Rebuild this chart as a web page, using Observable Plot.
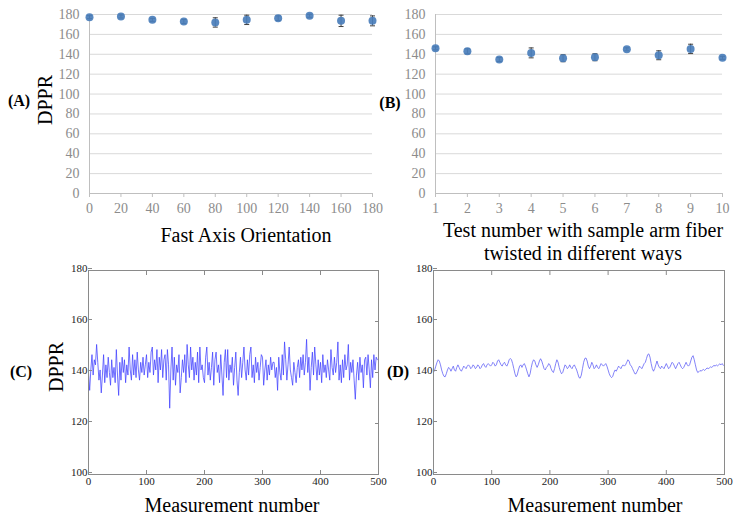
<!DOCTYPE html>
<html><head><meta charset="utf-8">
<script src="https://cdn.jsdelivr.net/npm/d3@7"></script>
<script src="https://cdn.jsdelivr.net/npm/@observablehq/plot@0.6"></script>
<style>
body{margin:0;background:#fff;}
#wrap{position:relative;width:742px;height:520px;overflow:hidden;font-family:"Liberation Serif","Times New Roman",serif;}
#wrap svg, #wrap svg text{font-family:"Liberation Serif","Times New Roman",serif !important;}
.p{position:absolute;}
.t{position:absolute;white-space:nowrap;transform:translate(-50%,-50%);color:#000;font-size:20px;line-height:1;}
.lab{position:absolute;white-space:nowrap;transform:translate(-50%,-50%);font-weight:bold;font-size:16px;line-height:1;}
.rot{transform:translate(-50%,-50%) rotate(-90deg);}
</style></head><body><div id="wrap"></div>
<script>
// Panel A
const orientations = [0, 20, 40, 60, 80, 100, 120, 140, 160, 180];
const dpprA = [177.3, 178, 174.6, 173, 172, 174.6, 176.3, 178.7, 173.6, 173.6];
const errA = [1.5, 1.5, 1.5, 2, 4.7, 4.7, 2.3, 1.5, 5.7, 5];
// Panel B
const tests = [1, 2, 3, 4, 5, 6, 7, 8, 9, 10];
const dpprB = [146, 143, 134.7, 141.4, 136, 137, 145, 139, 145.4, 136.4];
const errB = [1.5, 2.5, 2, 5, 3.5, 3.5, 1.5, 4.5, 4.7, 1.5];
const yTicksAB = [0, 20, 40, 60, 80, 100, 120, 140, 160, 180];
// Panel C (every 2nd measurement)
const dpprC = [
140,133,141,147,139,145,143,151,144,137,
141,132,139,147,136,143,138,146,140,135,
145,138,142,136,149,139,131,144,137,146,
140,145,136,143,139,150,141,137,147,139,
145,138,148,141,137,144,140,146,139,143,
147,138,144,140,148,150,139,145,141,149,
136,146,141,149,138,145,147,137,149,143,
126,141,150,137,146,135,143,140,147,132,
138,145,140,147,136,151,143,138,150,141,
146,137,144,139,148,136,150,141,143,138,
136,146,150,139,144,137,142,148,135,145,
148,140,143,136,147,139,131,144,149,138,
149,137,143,140,146,135,142,148,137,131,
140,146,138,144,150,141,137,145,139,147,
150,138,143,136,146,140,144,137,142,147,
146,135,141,145,137,143,139,146,141,144,
144,138,142,133,146,140,137,147,139,152,
145,137,143,150,141,138,135,144,140,136,
142,145,138,146,141,147,139,144,153,140,
146,133,142,148,139,150,143,137,145,139,
144,136,147,140,143,138,145,141,137,149,
142,139,146,140,144,152,137,143,136,145,
138,147,141,143,151,137,144,140,145,137,
129.5,139,144,137,146,140,143,134,145,146,
139,147,141,134,145,138,147,141,146,145];
// Panel D (every 2nd measurement)
const dpprD = [
140,141,142.5,144,145,144.5,143,141,139.5,138.5,
138.3,139.5,141,142,141.5,140.5,141.5,142.5,141,140.5,
142,143,142,141,140.5,141.5,142.5,142,141.5,142.5,
143,142.5,141.5,142,143,142.5,141.5,142,143,142.5,
141.5,142,143,143.5,142.5,142,143,143.5,143,142.5,
143,144,143.5,142.5,143,144.5,145,144,143,142.5,
143.5,144,143,142.5,143.5,145,145.5,145,143.5,141.5,
139.5,138.3,139,141,142.5,143,142,143,143.5,142.5,
141,139.5,138.3,139.5,142,144,145,144.5,143,142,
143,144.5,145.4,144.5,143,141.5,141,142,142.5,143.5,
143,141.5,140.5,140,141.5,143.5,145,144,142,140.5,
139.5,140,141.5,143,142.5,141.5,142,143,142,141.5,
142.5,143,142,141,139.5,138,137.8,139,141.5,144,
145.5,145.7,144.5,142.5,141.5,142.5,144,143,141.5,142,
143,142,141.5,142.5,143.5,143,142.5,143,143.5,142.5,
141,139.5,138.5,138,138.5,140,141,140.5,141.5,142.5,
142,141.5,142.5,143,142.5,143,144,145,144.5,143,
142.5,141.5,140.5,139.5,139.5,140.5,141.5,142.5,142,141.5,
142.5,143.5,144,145.5,147,147.3,146,143.5,141.5,140.5,
141.5,143,144.5,143,142,141.5,142.5,142,141.5,142.5,
143.5,142.5,141.5,142,143,144,143.5,142.5,141.5,142.5,
143.5,144,143,142,141.5,142,143,144,143,142.5,
143,144.5,146,146.6,145,143,141,140,140.3,140.8,
140.5,141,141.2,140.8,141.3,141.8,141.5,141.8,142.2,142,
142.4,142.8,142.5,143,142.6,143,143.4,143,143.5,142.8];
const xTicksCD = [0, 100, 200, 300, 400, 500];
const yTicksCD = [100, 120, 140, 160, 180];

const capSymbol = {draw(ctx, size) { const w = Math.sqrt(size / Math.PI); ctx.moveTo(-w, 0); ctx.lineTo(w, 0); }};
const serif = "Liberation Serif, Times New Roman, serif";

function excelPanel(xs, ys, es, xDomain, w, ml, mr) {
  const rows = xs.map((x, i) => ({x, y: ys[i], e: es[i]}));
  return Plot.plot({
    width: w, height: 260, marginTop: 14, marginBottom: 67, marginLeft: ml, marginRight: mr,
    style: {fontFamily: serif, fontSize: "14px", color: "#8c8c8c", background: "transparent", overflow: "visible"},
    x: {domain: xDomain}, y: {domain: [0, 180]},
    marks: [
      Plot.ruleY(yTicksAB, {stroke: "#d9d9d9"}),
      Plot.ruleY([0], {stroke: "#bfbfbf"}),
      Plot.ruleX([xDomain[0]], {y1: 0, y2: 180, stroke: "#bfbfbf"}),
      Plot.axisY({ticks: yTicksAB, tickSize: 0, tickPadding: 10, label: null, fontFamily: serif}),
      Plot.axisX({ticks: xs, tickSize: 4, tickPadding: 6, stroke: "#bfbfbf", label: null, fontFamily: serif}),
      Plot.ruleX(rows, {x: "x", y1: d => d.y - d.e, y2: d => d.y + d.e, stroke: "#404040", strokeWidth: 1}),
      Plot.dot(rows, {x: "x", y: d => d.y - d.e, r: 2.5, symbol: capSymbol, stroke: "#404040", strokeWidth: 1}),
      Plot.dot(rows, {x: "x", y: d => d.y + d.e, r: 2.5, symbol: capSymbol, stroke: "#404040", strokeWidth: 1}),
      Plot.dot(rows, {x: "x", y: "y", r: 4, fill: "#4a7ebb", fillOpacity: 0.92})
    ]
  });
}

function matlabPanel(ys, color, w, ml, mr) {
  const rows = ys.map((y, i) => ({x: i * 2, y}));
  return Plot.plot({
    width: w, height: 260, marginTop: 10, marginBottom: 46, marginLeft: ml, marginRight: mr,
    style: {fontFamily: serif, fontSize: "11px", color: "#222", background: "transparent", overflow: "visible"},
    x: {domain: [0, 500]}, y: {domain: [100, 180]},
    marks: [
      Plot.line(rows, {x: "x", y: "y", stroke: color, strokeWidth: 0.75}),
      Plot.frame({stroke: "#8a8a8a"}),
      Plot.axisY({ticks: yTicksCD, tickSize: -4, tickPadding: 5, stroke: "#8a8a8a", label: null, fontFamily: serif, dy: -2}),
      Plot.axisY({anchor: "right", ticks: yTicksCD, tickSize: -4, tickFormat: () => "", stroke: "#8a8a8a", label: null}),
      Plot.axisX({ticks: xTicksCD, tickSize: -4, tickPadding: 7, stroke: "#8a8a8a", label: null, fontFamily: serif}),
      Plot.axisX({anchor: "top", ticks: xTicksCD, tickSize: -4, tickFormat: () => "", stroke: "#8a8a8a", label: null})
    ]
  });
}

const wrap = document.getElementById("wrap");
function place(el, left, top) { el.classList.add("p"); el.style.left = left + "px"; el.style.top = top + "px"; wrap.appendChild(el); }
function txt(s, cx, cy, cls) { const d = document.createElement("div"); d.className = cls; d.textContent = s; d.style.left = cx + "px"; d.style.top = cy + "px"; wrap.appendChild(d); }

place(excelPanel(orientations, dpprA, errA, [0, 180], 380, 89, 8), 0, 0);
place(excelPanel(tests, dpprB, errB, [1, 10], 362, 55, 20), 380, 0);
place(matlabPanel(dpprC, "#4040ff", 380, 88, 2), 0, 260);
place(matlabPanel(dpprD, "#5a5af5", 362, 53, 18), 380, 260);

txt("(A)", 19, 101, "lab");
txt("DPPR", 45, 100, "t rot");
txt("Fast Axis Orientation", 246, 235, "t");
txt("(B)", 390, 103, "lab");
txt("Test number with sample arm fiber", 583, 230, "t");
txt("twisted in different ways", 583, 253, "t");
txt("(C)", 21, 372, "lab");
txt("DPPR", 56, 367, "t rot");
txt("Measurement number", 232, 505, "t");
txt("(D)", 398, 372, "lab");
txt("Measurement number", 595, 505, "t");
</script></body></html>
